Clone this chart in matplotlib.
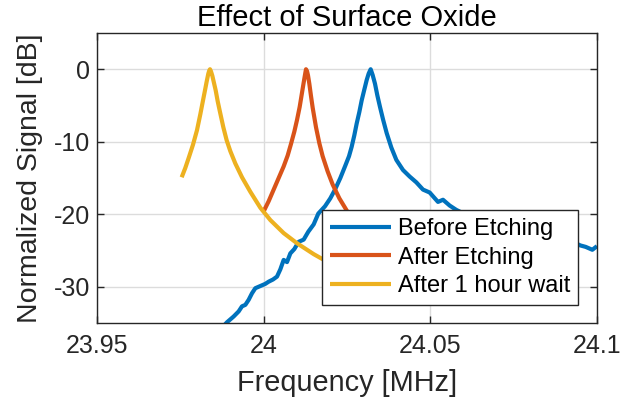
import matplotlib
matplotlib.use("Agg")
import matplotlib.pyplot as plt

plt.rcParams['font.family'] = ['Liberation Sans', 'DejaVu Sans']
plt.rcParams['axes.unicode_minus'] = False

# Frequency sweeps [MHz] and normalized response [dB]
before_freq = [23.9870, 23.9890, 23.9910, 23.9925, 23.9935, 23.9945, 23.9955, 23.9965,
               23.9975, 23.9990, 24.0005, 24.0015, 24.0028, 24.0040, 24.0050, 24.0060,
               24.0070, 24.0080, 24.0092, 24.0105, 24.0120, 24.0134, 24.0150, 24.0164,
               24.0184, 24.0200, 24.0214, 24.0230, 24.0244, 24.0256, 24.0264, 24.0272,
               24.0279, 24.0287, 24.0294, 24.0302, 24.0309, 24.0315, 24.0321, 24.0327,
               24.0334, 24.0341, 24.0349, 24.0358, 24.0369, 24.0383, 24.0398, 24.0418,
               24.0438, 24.0458, 24.0478, 24.0498, 24.0523, 24.0538, 24.0558, 24.0578,
               24.0600, 24.0650, 24.0700, 24.0750, 24.0800, 24.0850, 24.0900, 24.0936,
               24.0950, 24.0966, 24.0986, 24.1000]
before_db = [-35.9, -34.9, -34.1, -33.4, -32.7, -32.5, -31.8, -30.9,
             -30.2, -29.9, -29.6, -29.3, -29.0, -28.6, -27.6, -26.3,
             -26.6, -25.4, -24.8, -23.8, -23.5, -22.4, -21.4, -19.9,
             -18.9, -17.8, -16.6, -15.0, -13.4, -12.0, -10.7, -9.1,
             -7.5, -5.9, -4.3, -2.8, -1.5, -0.6, 0.0, -0.8,
             -2.0, -3.6, -5.2, -6.9, -8.8, -10.8, -12.5, -13.9,
             -14.8, -15.6, -16.6, -17.0, -18.3, -18.0, -18.8, -19.4,
             -19.9, -20.6, -21.4, -22.2, -22.9, -23.4, -23.8, -24.0,
             -24.3, -24.5, -24.9, -24.4]

after_freq = [24.0000, 24.0015, 24.0030, 24.0045, 24.0060, 24.0072, 24.0082, 24.0092,
              24.0100, 24.0108, 24.0113, 24.0118, 24.0122, 24.0125, 24.0127, 24.0130,
              24.0133, 24.0137, 24.0142, 24.0147, 24.0157, 24.0167, 24.0177, 24.0192,
              24.0207, 24.0227, 24.0252, 24.0277, 24.0307]
after_db = [-19.6, -18.2, -16.6, -15.0, -13.4, -11.9, -10.3, -8.6,
            -7.0, -5.2, -3.8, -2.4, -1.3, -0.5, 0.0, -0.25,
            -0.85, -2.0, -3.7, -5.3, -8.0, -10.2, -12.0, -14.1,
            -15.9, -17.8, -19.7, -21.3, -22.8]

wait_freq = [23.9754, 23.9765, 23.9776, 23.9788, 23.9800, 23.9810, 23.9818, 23.9824,
             23.9829, 23.9834, 23.9837, 23.9839, 23.9842, 23.9846, 23.9851, 23.9856,
             23.9862, 23.9869, 23.9879, 23.9889, 23.9900, 23.9915, 23.9935, 23.9960,
             23.9990, 24.0020, 24.0060, 24.0100, 24.0150, 24.0200, 24.0250]
wait_db = [-14.9, -13.6, -12.1, -10.4, -8.4, -6.2, -4.3, -2.9,
           -1.7, -0.6, -0.15, 0.0, -0.3, -0.9, -1.9, -2.9,
           -4.4, -5.9, -8.0, -9.8, -11.3, -13.0, -14.9, -16.9,
           -19.1, -20.8, -22.6, -24.0, -25.5, -26.8, -27.8]

labels = ['Before Etching', 'After Etching', 'After 1 hour wait']
colors = ['#0072BD', '#D95319', '#EDB120']

x_ticks = [23.95, 24.0, 24.05, 24.1]
x_tick_labels = ['23.95', '24', '24.05', '24.1']
y_ticks = [-30, -20, -10, 0]

fig = plt.figure(figsize=(6.2, 4.05), dpi=100)
ax = fig.add_axes([97 / 620, 1 - 323 / 405, 500 / 620, 290 / 405])

for fx, fy, lab, col in zip([before_freq, after_freq, wait_freq],
                            [before_db, after_db, wait_db], labels, colors):
    ax.plot(fx, fy, color=col, lw=3, label=lab,
            solid_joinstyle='round', solid_capstyle='butt')

ax.set_xlim(23.95, 24.1)
ax.set_ylim(-35, 5)
ax.set_xticks(x_ticks)
ax.set_xticklabels(x_tick_labels)
ax.set_yticks(y_ticks)

dark = '#262626'
ax.grid(True, color='#dcdcdc', lw=1)
ax.set_axisbelow(True)
for s in ax.spines.values():
    s.set_color(dark)
    s.set_linewidth(1)
ax.tick_params(direction='in', length=5, width=1, color=dark, labelcolor=dark,
               labelsize=18, top=True, right=True)
ax.tick_params(axis='x', pad=8)
ax.tick_params(axis='y', pad=5)

ax.set_xlabel('Frequency [MHz]', fontsize=20.8, color=dark, labelpad=8)
ax.set_ylabel('Normalized Signal [dB]', fontsize=20.5, color=dark, labelpad=8)
ax.set_title('Effect of Surface Oxide', fontsize=21, color='black', pad=5)

leg = ax.legend(loc='lower left', bbox_to_anchor=(0.45, 0.062), borderaxespad=0,
                fontsize=17, handlelength=2.6, handletextpad=0.3, labelspacing=0.29,
                borderpad=0.32, fancybox=False, framealpha=1, edgecolor=dark)
leg.get_frame().set_linewidth(1)

fig.savefig('out.png', dpi=100)
